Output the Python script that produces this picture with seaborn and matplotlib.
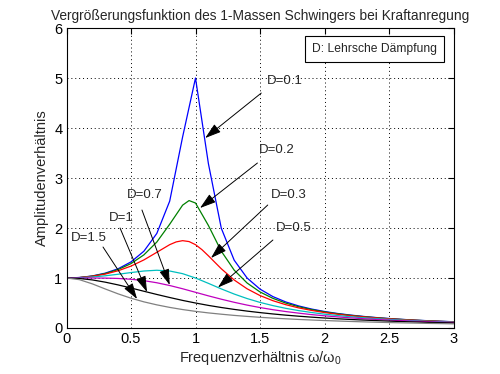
import matplotlib
matplotlib.use("Agg")
import matplotlib.pyplot as plt
import seaborn as sns
import pandas as pd

# frequency ratio samples (step 0.1)
eta = [0.0, 0.1, 0.2, 0.3, 0.4, 0.5, 0.6, 0.7, 0.8, 0.9, 1.0, 1.1, 1.2, 1.3, 1.4, 1.5,
       1.6, 1.7, 1.8, 1.9, 2.0, 2.1, 2.2, 2.3, 2.4, 2.5, 2.6, 2.7, 2.8, 2.9, 3.0]
# D=0.2 and D=0.3 curves read with extra points around their rounded peaks
eta_d02 = [0.0, 0.1, 0.2, 0.3, 0.4, 0.5, 0.6, 0.7, 0.8, 0.9, 0.95, 1.0, 1.1, 1.2, 1.3, 1.4, 1.5,
           1.6, 1.7, 1.8, 1.9, 2.0, 2.1, 2.2, 2.3, 2.4, 2.5, 2.6, 2.7, 2.8, 2.9, 3.0]
eta_d03 = [0.0, 0.1, 0.2, 0.3, 0.4, 0.5, 0.6, 0.7, 0.8, 0.85, 0.9, 0.95, 1.0, 1.05, 1.1, 1.2, 1.3, 1.4, 1.5,
           1.6, 1.7, 1.8, 1.9, 2.0, 2.1, 2.2, 2.3, 2.4, 2.5, 2.6, 2.7, 2.8, 2.9, 3.0]

v_d01 = [1.0, 1.010, 1.041, 1.097, 1.185, 1.322, 1.536, 1.891, 2.538, 3.821, 5.0, 3.288, 1.995, 1.356, 1.000, 0.778,
         0.628, 0.521, 0.441, 0.379, 0.330, 0.291, 0.259, 0.232, 0.209, 0.190, 0.173, 0.158, 0.146, 0.135, 0.125]
v_d02 = [1.0, 1.009, 1.038, 1.089, 1.169, 1.288, 1.463, 1.719, 2.076, 2.457, 2.549, 2.5, 2.051, 1.536, 1.157, 0.900, 0.721,
         0.593, 0.498, 0.425, 0.368, 0.322, 0.285, 0.254, 0.228, 0.206, 0.187, 0.171, 0.157, 0.144, 0.133, 0.124]
v_d03 = [1.0, 1.008, 1.034, 1.078, 1.145, 1.238, 1.362, 1.514, 1.667, 1.722, 1.747, 1.729, 1.667, 1.567, 1.444,
         1.185, 0.960, 0.784, 0.649,
         0.546, 0.466, 0.402, 0.351, 0.309, 0.275, 0.246, 0.222, 0.201, 0.183, 0.168, 0.154, 0.142, 0.131, 0.122]
v_d05 = [1.0, 1.005, 1.020, 1.044, 1.075, 1.109, 1.140, 1.155, 1.140, 1.087, 1.0, 0.893, 0.782, 0.679, 0.589, 0.512,
         0.448, 0.393, 0.348, 0.310, 0.277, 0.250, 0.226, 0.205, 0.188, 0.172, 0.158, 0.146, 0.135, 0.126, 0.117]
v_d07 = [1.0, 1.000, 1.000, 0.998, 0.991, 0.975, 0.947, 0.905, 0.850, 0.785, 0.714, 0.643, 0.576, 0.514, 0.458, 0.409,
         0.366, 0.329, 0.297, 0.268, 0.244, 0.222, 0.203, 0.186, 0.172, 0.158, 0.147, 0.136, 0.127, 0.118, 0.111]
v_d10 = [1.0, 0.990, 0.962, 0.917, 0.862, 0.800, 0.735, 0.671, 0.610, 0.552, 0.5, 0.452, 0.410, 0.372, 0.338, 0.308,
         0.281, 0.257, 0.236, 0.217, 0.200, 0.185, 0.171, 0.159, 0.148, 0.138, 0.129, 0.121, 0.113, 0.106, 0.100]
v_d15 = [1.0, 0.967, 0.883, 0.781, 0.683, 0.596, 0.523, 0.463, 0.412, 0.369, 0.333, 0.302, 0.276, 0.252, 0.232, 0.214,
         0.198, 0.184, 0.171, 0.160, 0.149, 0.140, 0.131, 0.123, 0.116, 0.109, 0.103, 0.098, 0.092, 0.088, 0.083]

damping = ["0.1", "0.2", "0.3", "0.5", "0.7", "1", "1.5"]
series = [v_d01, v_d02, v_d03, v_d05, v_d07, v_d10, v_d15]
xgrids = [eta, eta_d02, eta_d03, eta, eta, eta, eta]
colors = ["#0000ff", "#008000", "#ff0000", "#00bfbf", "#bf00bf", "#000000", "#808080"]

# annotation labels: text position, arrow start, arrow tip (data coords)
ann_labels = ["D=0.1", "D=0.2", "D=0.3", "D=0.5", "D=0.7", "D=1", "D=1.5"]
ann_text = [(1.55, 4.94), (1.49, 3.56), (1.585, 2.66), (1.625, 2.00), (0.47, 2.67), (0.325, 2.21), (0.035, 1.81)]
ann_start = [(1.51, 4.70), (1.48, 3.30), (1.56, 2.46), (1.60, 1.76), (0.585, 2.36), (0.415, 2.00), (0.283, 1.62)]
ann_tip = [(1.075, 3.80), (1.035, 2.40), (1.12, 1.40), (1.174, 0.81), (0.80, 0.86), (0.624, 0.72), (0.547, 0.58)]

rows = []
for d, xs, vals in zip(damping, xgrids, series):
    for x, v in zip(xs, vals):
        rows.append({"eta": x, "V": v, "D": d})
df = pd.DataFrame(rows)

sns.set_style("white")
plt.rcParams["font.family"] = ["Liberation Sans", "DejaVu Sans"]
plt.rcParams["mathtext.fontset"] = "custom"
plt.rcParams["mathtext.rm"] = "Liberation Sans"
plt.rcParams["mathtext.it"] = "Liberation Sans"

fig = plt.figure(figsize=(5.0, 3.74), dpi=100)
fig.patch.set_facecolor("white")
ax = fig.add_axes([0.133, 0.123, 0.774, 0.802])

sns.lineplot(data=df, x="eta", y="V", hue="D", palette=dict(zip(damping, colors)),
             hue_order=damping, linewidth=0.9, legend=False, ax=ax, sort=False)

ax.set_xlim(0, 3)
ax.set_ylim(0, 6)
xt = [0, 0.5, 1, 1.5, 2, 2.5, 3]
ax.set_xticks(xt)
ax.set_xticklabels(["0", "0.5", "1", "1.5", "2", "2.5", "3"])
ax.set_yticks(range(7))
ax.set_yticklabels([str(i) for i in range(7)])
ax.tick_params(direction="in", top=True, right=True, length=4, width=0.8,
               labelsize=10.5, colors="black", pad=3)
ax.grid(True, linestyle=(0, (1, 3)), color="black", linewidth=0.7)
for s in ax.spines.values():
    s.set_visible(True)
    s.set_color("black")
    s.set_linewidth(0.8)

ax.set_xlabel("Frequenzverhältnis ω/ω$_0$", fontsize=10.5, labelpad=2)
ax.set_ylabel("Amplitudenverhältnis", fontsize=10.5, labelpad=4)
ax.set_title("Vergrößerungsfunktion des 1-Massen Schwingers bei Kraftanregung",
             fontsize=9.9, pad=6)

for lab, t, s0, tip in zip(ann_labels, ann_text, ann_start, ann_tip):
    ax.text(t[0], t[1], lab, fontsize=9.5, ha="left", va="center")
    ax.annotate("", xy=tip, xytext=s0,
                arrowprops=dict(arrowstyle="-|>,head_length=0.7,head_width=0.22",
                                color="black", lw=0.7, shrinkA=0, shrinkB=0,
                                mutation_scale=14))

ax.text(0.634, 0.93, "D: Lehrsche Dämpfung", transform=ax.transAxes, fontsize=8.7,
        ha="left", va="center",
        bbox=dict(boxstyle="square,pad=0.6", facecolor="white", edgecolor="black", linewidth=0.8))

fig.savefig("out.png", dpi=100, facecolor="white")
